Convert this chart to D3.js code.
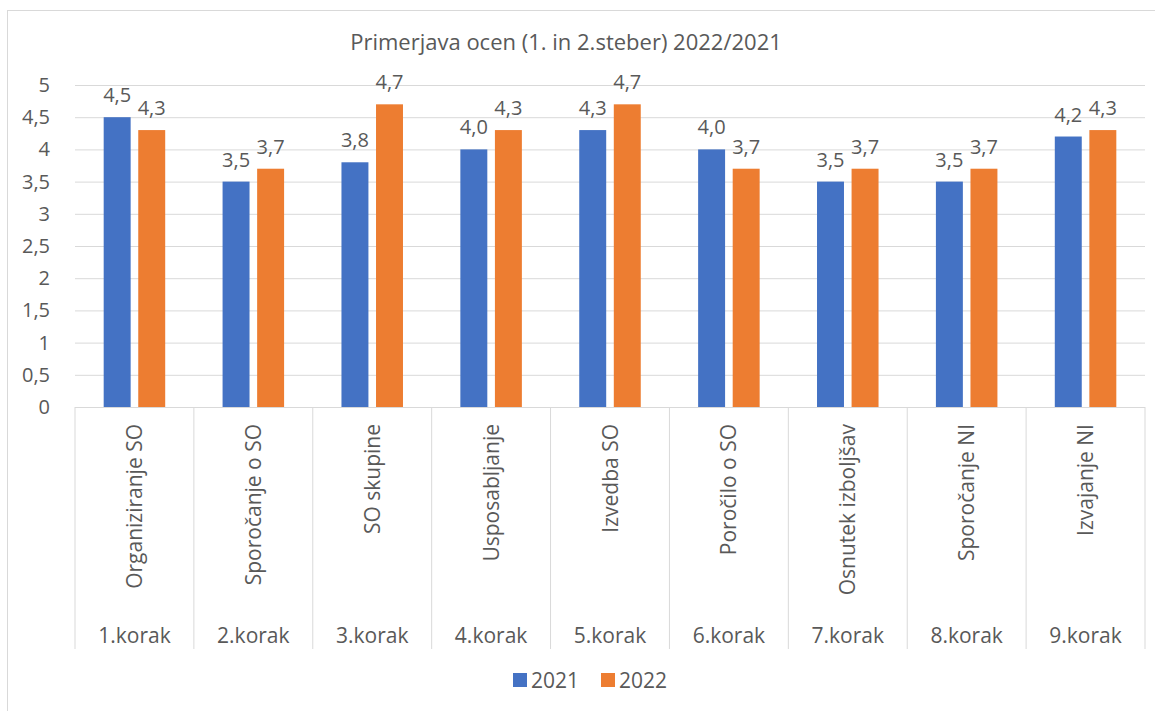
<!DOCTYPE html>
<html>
<head>
<meta charset="utf-8">
<script src="https://cdn.jsdelivr.net/npm/d3@7"></script>
<style>
  body { margin: 0; background: #fff; }
  svg text { font-family: "Open Sans", sans-serif; fill: #595959; }
</style>
</head>
<body>
<div id="chart"></div>
<script>
const steps = ["1.korak", "2.korak", "3.korak", "4.korak", "5.korak", "6.korak", "7.korak", "8.korak", "9.korak"];
const names = ["Organiziranje SO", "Sporočanje o SO", "SO skupine", "Usposabljanje", "Izvedba SO", "Poročilo o SO", "Osnutek izboljšav", "Sporočanje NI", "Izvajanje NI"];
const series = ["2021", "2022"];
const values2021 = [4.5, 3.5, 3.8, 4.0, 4.3, 4.0, 3.5, 3.5, 4.2];
const values2022 = [4.3, 3.7, 4.7, 4.3, 4.7, 3.7, 3.7, 3.7, 4.3];
const yTicks = [0, 0.5, 1, 1.5, 2, 2.5, 3, 3.5, 4, 4.5, 5];
const title = "Primerjava ocen (1. in 2.steber) 2022/2021";

const width = 1155;
const height = 711;
const plotLeft = 75, plotRight = 1145, plotTop = 85, plotBottom = 407;
const colors = { "2021": "#4472C4", "2022": "#ED7D31" };
const gridColor = "#d9d9d9";

const svg = d3.select('#chart')
  .append('svg')
  .attr('width', width)
  .attr('height', height);

// outer border
svg.append('rect')
  .attr('x', 7.5).attr('y', 10.5)
  .attr('width', width).attr('height', height)
  .attr('fill', 'none')
  .attr('stroke', gridColor);

svg.append('text')
  .attr('x', 566).attr('y', 50)
  .attr('text-anchor', 'middle')
  .style('font-size', '22px')
  .text(title);

const y = d3.scaleLinear().domain([0, 5]).range([plotBottom, plotTop]);
const x0 = d3.scaleBand().domain(steps).range([plotLeft, plotRight]);
const x1 = d3.scaleBand().domain(series).range([0, x0.bandwidth()])
  .paddingInner(0.22).paddingOuter(0.83);

//Gridlines + y labels
const yAxis = d3.axisLeft(y)
  .tickValues(yTicks)
  .tickSize(-(plotRight - plotLeft))
  .tickPadding(25)
  .tickFormat(d => String(d).replace('.', ','));

svg.append('g')
  .attr('transform', `translate(${plotLeft},0)`)
  .call(yAxis)
  .call(g => g.select('.domain').remove())
  .call(g => g.selectAll('.tick line').attr('stroke', gridColor))
  .call(g => g.selectAll('.tick text')
    .attr('fill', '#595959')
    .style('font-size', '20px')
    .style('font-family', '"Open Sans", sans-serif'));

//Bars
const rows = steps.map((s, i) => ({ step: s, values: [
  { key: "2021", value: values2021[i] },
  { key: "2022", value: values2022[i] }
]}));

const groups = svg.append('g')
  .selectAll('g')
  .data(rows)
  .enter().append('g')
  .attr('transform', d => `translate(${x0(d.step)},0)`);

groups.selectAll('rect')
  .data(d => d.values)
  .enter().append('rect')
  .attr('x', d => x1(d.key))
  .attr('y', d => y(d.value))
  .attr('width', x1.bandwidth())
  .attr('height', d => y(0) - y(d.value))
  .attr('fill', d => colors[d.key]);

groups.selectAll('text')
  .data(d => d.values)
  .enter().append('text')
  .attr('x', d => x1(d.key) + x1.bandwidth() / 2)
  .attr('y', d => y(d.value) - 15)
  .attr('text-anchor', 'middle')
  .style('font-size', '20px')
  .text(d => d.value.toFixed(1).replace('.', ','));

//Category axis (two levels)
const catBottom = 649;
svg.append('g')
  .selectAll('line')
  .data(steps.map(s => x0(s)).concat([plotRight]))
  .enter().append('line')
  .attr('x1', d => d).attr('x2', d => d)
  .attr('y1', plotBottom).attr('y2', catBottom)
  .attr('stroke', gridColor);

svg.append('g')
  .selectAll('text')
  .data(names)
  .enter().append('text')
  .attr('transform', (d, i) => `translate(${x0(steps[i]) + x0.bandwidth() / 2 + 7.5},424) rotate(-90)`)
  .attr('text-anchor', 'end')
  .style('font-size', '21px')
  .text(d => d);

svg.append('g')
  .selectAll('text')
  .data(steps)
  .enter().append('text')
  .attr('x', d => x0(d) + x0.bandwidth() / 2)
  .attr('y', 643)
  .attr('text-anchor', 'middle')
  .style('font-size', '21px')
  .text(d => d);

//Legend
const legendX = [513, 601];
const legend = svg.append('g')
  .selectAll('g')
  .data(series)
  .enter().append('g')
  .attr('transform', (d, i) => `translate(${legendX[i]},673)`);

legend.append('rect')
  .attr('width', 14).attr('height', 14)
  .attr('fill', d => colors[d]);

legend.append('text')
  .attr('x', 18).attr('y', 14.5)
  .style('font-size', '21px')
  .text(d => d);
</script>
</body>
</html>
